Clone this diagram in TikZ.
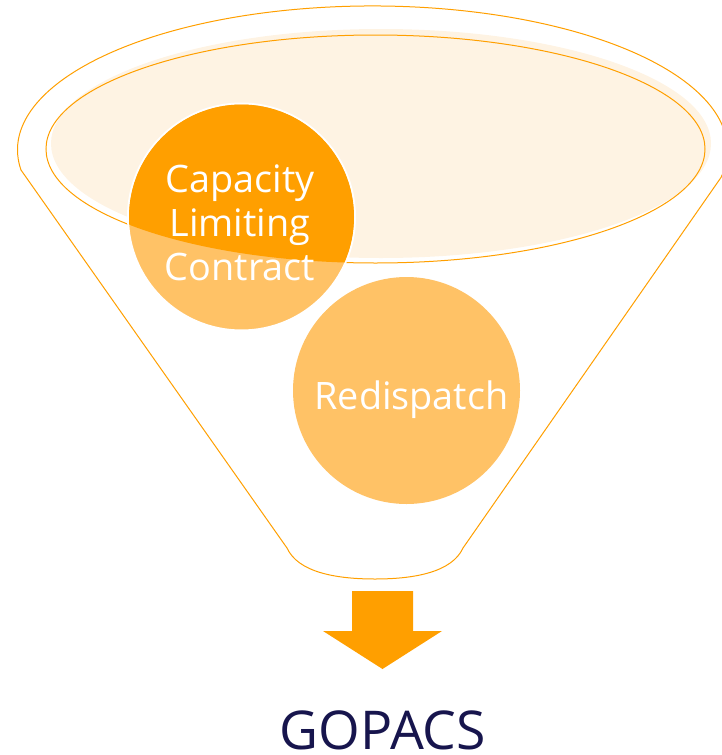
\documentclass[tikz,border=0pt]{standalone}
\usepackage{fontspec}
\setmainfont{Open Sans}
\definecolor{funnelorange}{HTML}{FF9F00}
\definecolor{lightorange}{HTML}{FFC266}
\definecolor{peach}{HTML}{FEF3E3}
\definecolor{navy}{HTML}{17154D}
\tikzset{
  funnelline/.style={draw=funnelorange, line width=1pt},
  bubble/.style={circle, minimum size=227pt, inner sep=0pt, fill=lightorange},
  bubbletext/.style={text=white, align=center, font=\fontsize{37.8}{44}\selectfont},
}

\begin{document}
\begin{tikzpicture}[x=1pt,y=-1pt]
  \useasboundingbox (0,0) rectangle (721,755);
  % funnel
  \draw[funnelline, line join=round] (21,170)
    arc[start angle=188, end angle=-11, x radius=355pt, y radius=144pt]
    -- (463,548) .. controls (452,572) and (415,579) .. (375,579)
    .. controls (335,579) and (298,572) .. (287,548) -- cycle;
  \fill[peach] (381,143.5) ellipse [x radius=330pt, y radius=114.5pt];
  \draw[funnelline] (375.5,149) ellipse [x radius=329.5pt, y radius=114pt];
  % bubbles
  \node[bubble, draw=white, line width=2pt] (clc) at (241.5,217) {};
  \begin{scope}
    \clip (375.5,149) ellipse [x radius=329.5pt, y radius=114pt];
    \fill[funnelorange] (clc.center) circle [radius=112.5pt];
  \end{scope}
  \node[bubbletext] (clctext) at (240,222.5) {Capacity\\Limiting\\Contract};
  \node[bubble] (redis) at (406.5,390.5) {};
  \node[bubbletext, anchor=base] (redistext) at (411.5,409) {Redispatch};
  % arrow
  \fill[funnelorange] (352,591) -- (413,591) -- (413,631) -- (442,631)
    -- (382.5,669) -- (323,631) -- (352,631) -- cycle;
  \node[anchor=base, inner sep=0pt, text=navy, font=\fontsize{53.5}{58}\selectfont] (gopacs) at (383,749) {GOPACS};
\end{tikzpicture}
\end{document}
